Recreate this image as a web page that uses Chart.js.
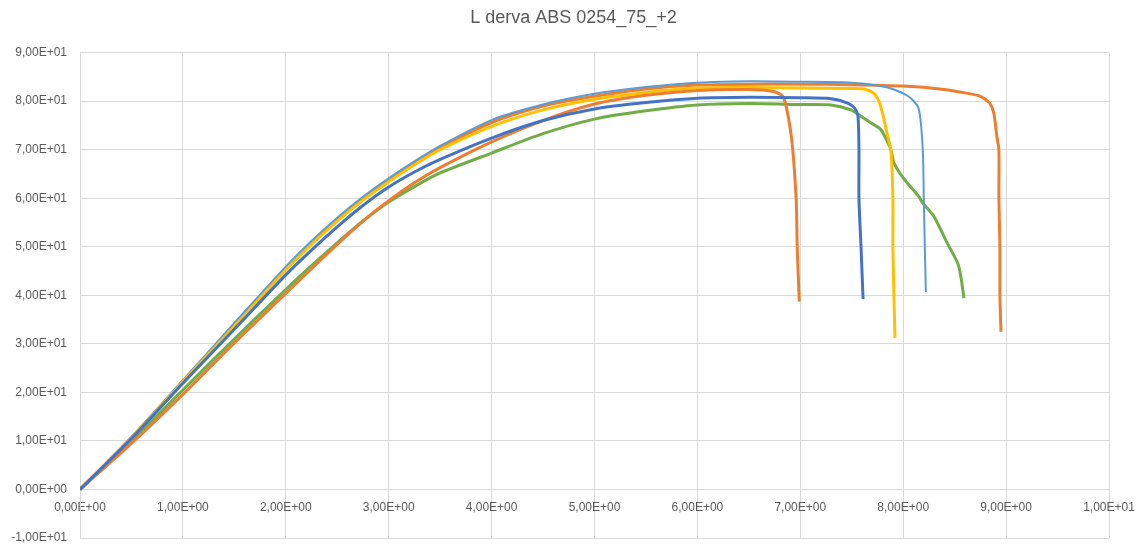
<!DOCTYPE html>
<html lang="it">
<head>
    <meta charset="UTF-8">
    <title>L derva ABS 0254_75_+2</title>
    <script src="https://cdn.jsdelivr.net/npm/chart.js"></script>
    <style>
        body { margin: 0; background: #fff; }
        #wrap { width: 1147px; height: 545px; }
    </style>
</head>
<body>
    <div id="wrap"><canvas id="chart"></canvas></div>
    <script>
        const chartTitle = 'L derva ABS 0254_75_+2';

        const xTicks = [0, 1, 2, 3, 4, 5, 6, 7, 8, 9, 10];
        const xTickLabels = ['0,00E+00', '1,00E+00', '2,00E+00', '3,00E+00', '4,00E+00', '5,00E+00',
            '6,00E+00', '7,00E+00', '8,00E+00', '9,00E+00', '1,00E+01'];
        const yTicks = [-10, 0, 10, 20, 30, 40, 50, 60, 70, 80, 90];
        const yTickLabels = ['-1,00E+01', '0,00E+00', '1,00E+01', '2,00E+01', '3,00E+01', '4,00E+01',
            '5,00E+01', '6,00E+01', '7,00E+01', '8,00E+01', '9,00E+01'];

        const blueX = [0, 0.5, 1, 1.5, 2, 2.25, 2.5, 2.75, 3, 3.25, 3.5, 4, 4.5, 5, 5.5, 6, 6.5, 7, 7.3, 7.46, 7.53, 7.56, 7.57, 7.57, 7.59, 7.61];
        const blueY = [0, 10.5, 21.9, 33, 44.2, 49.3, 54.1, 58.5, 62.3, 65.4, 68, 72.4, 76, 78.4, 79.7, 80.6, 80.8, 80.7, 80.5, 79.6, 78.5, 76.9, 70, 60, 50, 39.2];

        const orangeAX = [0, 0.5, 1, 1.5, 2, 2.25, 2.5, 2.75, 3, 3.25, 3.5, 4, 4.5, 5, 5.5, 6, 6.5, 6.74, 6.83, 6.87, 6.92, 6.96, 6.97, 6.99];
        const orangeAY = [0, 9.5, 19.6, 30.2, 40.4, 45.5, 50.5, 55.3, 59.5, 63.2, 66.3, 71.6, 76, 79.4, 81.2, 82.2, 82.4, 82, 81, 78.2, 71.4, 59.7, 50, 38.7];

        const yellowX = [0, 0.5, 1, 1.5, 2, 2.25, 2.5, 2.75, 3, 3.25, 3.5, 4, 4.5, 5, 5.5, 6, 6.5, 7, 7.5, 7.62, 7.72, 7.78, 7.85, 7.88, 7.9, 7.9, 7.91, 7.92];
        const yellowY = [0, 10.6, 22.2, 33.6, 45.2, 50.5, 55.3, 59.6, 63.4, 66.9, 70, 74.8, 78.2, 80.4, 81.8, 82.7, 82.8, 82.7, 82.6, 82.5, 81.5, 79, 72.7, 70, 60, 50, 40, 31.2];

        const lightBlueX = [0, 0.5, 1, 1.5, 2, 2.25, 2.5, 2.75, 3, 3.25, 3.5, 4, 4.5, 5, 5.5, 6, 6.5, 7, 7.5, 7.85, 8.05, 8.15, 8.19, 8.2, 8.21, 8.22];
        const lightBlueY = [0, 10.8, 22.5, 34.3, 45.9, 51.2, 56, 60.3, 64.1, 67.6, 70.8, 76.1, 79.3, 81.5, 82.9, 83.8, 84.1, 84, 83.8, 82.8, 81, 78.5, 70, 60, 50, 40.7];

        const greenX = [0, 0.5, 1, 1.5, 2, 2.25, 2.5, 2.75, 3, 3.25, 3.5, 4, 4.5, 5, 5.5, 6, 6.5, 7, 7.3, 7.49, 7.59, 7.68, 7.78, 7.85, 7.88, 7.91, 8.0, 8.15, 8.19, 8.3, 8.43, 8.53, 8.56, 8.59];
        const greenY = [0, 10, 20.5, 31, 41.2, 46.1, 50.8, 55.3, 59.2, 62.4, 65.2, 69.3, 73.3, 76.3, 78, 79.2, 79.5, 79.3, 79.2, 78.2, 76.9, 75.6, 74.2, 71.5, 70, 67.3, 64.2, 60.4, 59, 56.2, 50.7, 46.6, 43.9, 39.4];

        const orangeBX = [0, 0.5, 1, 1.5, 2, 2.25, 2.5, 2.75, 3, 3.25, 3.5, 4, 4.5, 5, 5.5, 6, 6.5, 7, 7.5, 8, 8.4, 8.6, 8.75, 8.84, 8.88, 8.91, 8.93, 8.93, 8.94, 8.94, 8.95];
        const orangeBY = [0, 10.7, 22.3, 33.9, 45.5, 50.8, 55.6, 59.9, 63.7, 67.2, 70.4, 75.6, 79, 81, 82.5, 83.3, 83.5, 83.5, 83.4, 83.1, 82.4, 81.7, 81, 79.6, 77.6, 72.7, 70, 60, 50, 40, 32.5];

        function pts(xs, ys) {
            return xs.map((x, i) => ({ x: x, y: ys[i] }));
        }

        function line(data, color, width) {
            return {
                data: data,
                borderColor: color,
                backgroundColor: color,
                borderWidth: width,
                pointRadius: 0,
                tension: 0.25,
                fill: false
            };
        }

        const tickFont = { family: 'Liberation Sans', size: 12 };

        new Chart(document.getElementById('chart'), {
            type: 'line',
            data: {
                datasets: [
                    line(pts(blueX, blueY), '#4472C4', 3),
                    line(pts(orangeAX, orangeAY), '#ED7D31', 3),
                    line(pts(yellowX, yellowY), '#FFC000', 3),
                    line(pts(lightBlueX, lightBlueY), '#5B9BD5', 2),
                    line(pts(greenX, greenY), '#70AD47', 3),
                    line(pts(orangeBX, orangeBY), '#ED7D31', 3)
                ]
            },
            options: {
                responsive: true,
                maintainAspectRatio: false,
                animation: false,
                layout: { padding: { left: 0, right: 0, top: 0, bottom: 7 } },
                plugins: {
                    legend: { display: false },
                    tooltip: { enabled: false },
                    title: {
                        display: true,
                        text: chartTitle,
                        color: '#595959',
                        font: { family: 'Liberation Sans', size: 18, weight: 'normal' },
                        padding: { top: 7, bottom: 24 }
                    }
                },
                scales: {
                    x: {
                        type: 'linear',
                        position: { y: 0 },
                        min: 0,
                        max: 10,
                        afterBuildTicks: scale => { scale.ticks = xTicks.map(v => ({ value: v })); },
                        afterFit: scale => {
                            scale.height = 0;
                            scale.paddingTop = 0;
                            scale.paddingBottom = 0;
                            scale.paddingLeft = 0;
                            scale.paddingRight = 38;
                        },
                        grid: { color: '#D9D9D9', drawTicks: false },
                        border: { color: '#D9D9D9' },
                        ticks: {
                            color: '#595959',
                            font: tickFont,
                            padding: 11,
                            maxRotation: 0,
                            callback: v => xTickLabels[xTicks.indexOf(Math.round(v))]
                        }
                    },
                    y: {
                        min: -10,
                        max: 90,
                        afterBuildTicks: scale => { scale.ticks = yTicks.map(v => ({ value: v })); },
                        afterFit: scale => {
                            scale.width = 80;
                            scale.paddingBottom = 0;
                        },
                        grid: { color: '#D9D9D9', drawTicks: false },
                        border: { color: '#D9D9D9' },
                        ticks: {
                            color: '#595959',
                            font: tickFont,
                            padding: 13,
                            callback: v => yTickLabels[yTicks.indexOf(Math.round(v))]
                        }
                    }
                }
            }
        });
    </script>
</body>
</html>
